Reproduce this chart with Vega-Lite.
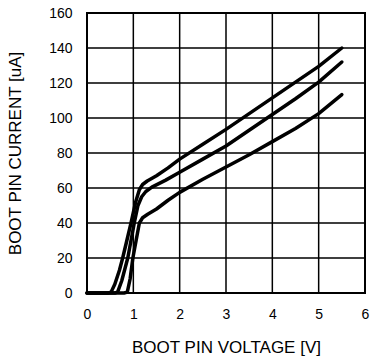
{
  "$schema": "https://vega.github.io/schema/vega-lite/v6.json",
  "width": 278,
  "height": 280,
  "autosize": {"type": "none"},
  "padding": {"left": 87, "top": 13, "right": 14, "bottom": 66},
  "background": "white",
  "config": {
    "view": {"stroke": "black", "strokeWidth": 2},
    "font": "Liberation Sans",
    "axis": {
      "domain": false,
      "ticks": false,
      "grid": false,
      "labelFlush": false,
      "labelOverlap": false,
      "labelFont": "Liberation Sans",
      "labelFontSize": 14,
      "labelColor": "black",
      "titleFont": "Liberation Sans",
      "titleFontSize": 17,
      "titleFontWeight": "normal",
      "titleColor": "black"
    }
  },
  "datasets": {
    "gridx": [{"v": 1}, {"v": 2}, {"v": 3}, {"v": 4}, {"v": 5}],
    "gridy": [{"i": 20}, {"i": 40}, {"i": 60}, {"i": 80}, {"i": 100}, {"i": 120}, {"i": 140}],
    "curves": [
      {"v": 0, "i": 0, "c": "A"},
      {"v": 0.45, "i": 0, "c": "A"},
      {"v": 0.52, "i": 0.5, "c": "A"},
      {"v": 0.6, "i": 5, "c": "A"},
      {"v": 0.7, "i": 13, "c": "A"},
      {"v": 0.77, "i": 20, "c": "A"},
      {"v": 0.86, "i": 30, "c": "A"},
      {"v": 0.95, "i": 40, "c": "A"},
      {"v": 1.05, "i": 52, "c": "A"},
      {"v": 1.13, "i": 59, "c": "A"},
      {"v": 1.2, "i": 62, "c": "A"},
      {"v": 1.3, "i": 64, "c": "A"},
      {"v": 1.5, "i": 67, "c": "A"},
      {"v": 1.75, "i": 71.5, "c": "A"},
      {"v": 2, "i": 76.5, "c": "A"},
      {"v": 2.5, "i": 85, "c": "A"},
      {"v": 3, "i": 93.5, "c": "A"},
      {"v": 3.5, "i": 102.5, "c": "A"},
      {"v": 4, "i": 111.5, "c": "A"},
      {"v": 4.5, "i": 120.5, "c": "A"},
      {"v": 5, "i": 129.5, "c": "A"},
      {"v": 5.5, "i": 140, "c": "A"},
      {"v": 0, "i": 0, "c": "B"},
      {"v": 0.6, "i": 0, "c": "B"},
      {"v": 0.66, "i": 0.5, "c": "B"},
      {"v": 0.75, "i": 7, "c": "B"},
      {"v": 0.88, "i": 20, "c": "B"},
      {"v": 0.95, "i": 30, "c": "B"},
      {"v": 1.02, "i": 40, "c": "B"},
      {"v": 1.1, "i": 50, "c": "B"},
      {"v": 1.18, "i": 55, "c": "B"},
      {"v": 1.27, "i": 58, "c": "B"},
      {"v": 1.4, "i": 60.5, "c": "B"},
      {"v": 1.7, "i": 64.5, "c": "B"},
      {"v": 2, "i": 69, "c": "B"},
      {"v": 2.5, "i": 76.5, "c": "B"},
      {"v": 3, "i": 84, "c": "B"},
      {"v": 3.5, "i": 93, "c": "B"},
      {"v": 4, "i": 102, "c": "B"},
      {"v": 4.5, "i": 111, "c": "B"},
      {"v": 5, "i": 120.5, "c": "B"},
      {"v": 5.5, "i": 132, "c": "B"},
      {"v": 0, "i": 0, "c": "C"},
      {"v": 0.8, "i": 0, "c": "C"},
      {"v": 0.87, "i": 0.5, "c": "C"},
      {"v": 0.93, "i": 8, "c": "C"},
      {"v": 0.99, "i": 20, "c": "C"},
      {"v": 1.06, "i": 30, "c": "C"},
      {"v": 1.13, "i": 40, "c": "C"},
      {"v": 1.2, "i": 43, "c": "C"},
      {"v": 1.31, "i": 45, "c": "C"},
      {"v": 1.5, "i": 48, "c": "C"},
      {"v": 1.75, "i": 53, "c": "C"},
      {"v": 2, "i": 57.5, "c": "C"},
      {"v": 2.5, "i": 65, "c": "C"},
      {"v": 3, "i": 72, "c": "C"},
      {"v": 3.5, "i": 79, "c": "C"},
      {"v": 4, "i": 86.5, "c": "C"},
      {"v": 4.5, "i": 94, "c": "C"},
      {"v": 5, "i": 102.5, "c": "C"},
      {"v": 5.5, "i": 113.3, "c": "C"}
    ]
  },
  "layer": [
    {
      "data": {"name": "gridx"},
      "mark": {"type": "rect", "fill": null, "stroke": "black", "strokeWidth": 1.5},
      "encoding": {
        "x": {"field": "v", "type": "quantitative"},
        "x2": {"field": "v"},
        "y": {"datum": 0, "type": "quantitative"},
        "y2": {"datum": 160}
      }
    },
    {
      "data": {"name": "gridy"},
      "mark": {"type": "rect", "fill": null, "stroke": "black", "strokeWidth": 1.5},
      "encoding": {
        "y": {"field": "i", "type": "quantitative"},
        "y2": {"field": "i"},
        "x": {"datum": 0, "type": "quantitative"},
        "x2": {"datum": 6}
      }
    },
    {
      "data": {"name": "curves"},
      "mark": {"type": "line", "color": "black", "strokeWidth": 3.5, "strokeCap": "round", "strokeJoin": "round"},
      "encoding": {
        "x": {
          "field": "v", "type": "quantitative",
          "scale": {"domain": [0, 6], "nice": false},
          "axis": {"tickCount": 6, "title": "BOOT PIN VOLTAGE [V]", "labelPadding": 14, "titlePadding": 18}
        },
        "y": {
          "field": "i", "type": "quantitative",
          "scale": {"domain": [0, 160], "nice": false},
          "axis": {"tickCount": 8, "title": "BOOT PIN CURRENT [uA]", "labelPadding": 15, "titlePadding": 24}
        },
        "detail": {"field": "c"}
      }
    }
  ]
}
